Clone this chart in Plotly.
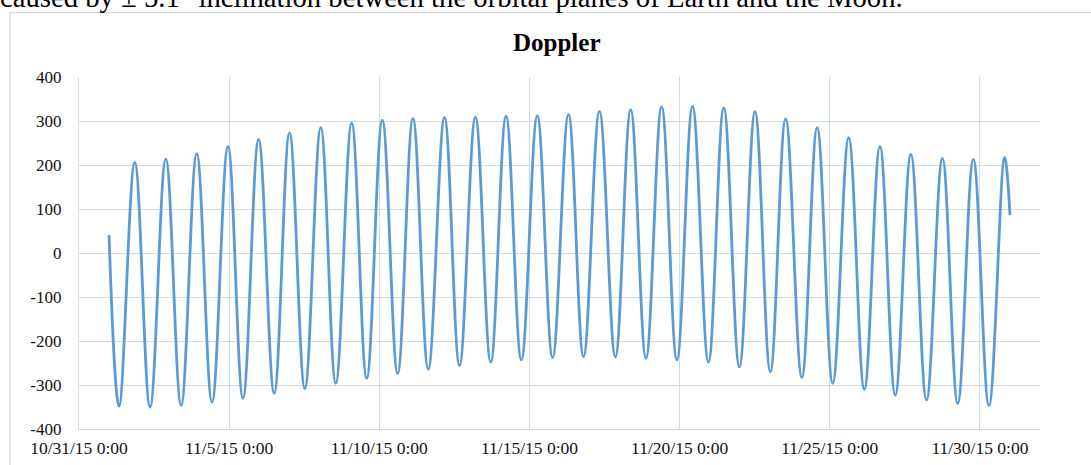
import plotly.graph_objects as go

# Doppler extremes (time, Hz)
times = [
    "2015-11-01 00:00", "2015-11-01 08:00", "2015-11-01 20:34", "2015-11-02 08:48", "2015-11-02 21:22",
    "2015-11-03 09:36", "2015-11-03 22:05", "2015-11-04 10:19", "2015-11-04 23:02", "2015-11-05 11:02",
    "2015-11-05 23:31", "2015-11-06 12:00", "2015-11-07 00:14", "2015-11-07 12:29", "2015-11-08 01:12",
    "2015-11-08 13:12", "2015-11-09 01:55", "2015-11-09 13:55", "2015-11-10 02:24", "2015-11-10 14:38",
    "2015-11-11 02:53", "2015-11-11 15:07", "2015-11-12 04:05", "2015-11-12 16:05", "2015-11-13 04:48",
    "2015-11-13 17:02", "2015-11-14 05:17", "2015-11-14 17:31", "2015-11-15 06:14", "2015-11-15 18:29",
    "2015-11-16 07:12", "2015-11-16 19:12", "2015-11-17 07:55", "2015-11-17 20:38", "2015-11-18 08:53",
    "2015-11-18 21:07", "2015-11-19 09:36", "2015-11-19 21:50", "2015-11-20 10:19", "2015-11-20 23:02",
    "2015-11-21 11:17", "2015-11-21 23:46", "2015-11-22 12:14", "2015-11-23 00:29", "2015-11-23 12:43",
    "2015-11-24 01:41", "2015-11-24 13:55", "2015-11-25 02:24", "2015-11-25 15:07", "2015-11-26 03:36",
    "2015-11-26 16:05", "2015-11-27 04:19", "2015-11-27 16:48", "2015-11-28 05:17", "2015-11-28 18:00",
    "2015-11-29 06:14", "2015-11-29 18:43", "2015-11-30 07:12", "2015-11-30 19:41", "2015-12-01 00:00",
]
doppler = [
    41, -348, 206, -350, 214,
    -346, 226, -339, 242, -330,
    258, -319, 273, -308, 285,
    -296, 295, -285, 302, -274,
    306, -264, 308, -256, 309,
    -248, 311, -243, 312, -238,
    315, -236, 322, -236, 326,
    -239, 332, -243, 333, -248,
    330, -259, 321, -270, 305,
    -283, 285, -296, 262, -310,
    242, -323, 224, -334, 215,
    -342, 213, -347, 217, 86,
]

y_tick_values = [-400, -300, -200, -100, 0, 100, 200, 300, 400]
y_tick_labels = ["-400", "-300", "-200", "-100", "0", "100", "200", "300", "400"]

title_text = "Doppler"
caption_text = "caused by \u00b1 5.1\u00b0 inclination between the orbital planes of Earth and the Moon."
x_range = ["2015-10-31", "2015-12-02"]
y_range = [-400, 400]

W, H = 1091, 465
ML, MR, MT, MB = 79, 51, 77, 36
PW, PH = W - ML - MR, H - MT - MB


def px(x):
    return (x - ML) / PW


def py(y):
    return (H - MB - y) / PH


font_family = "Liberation Serif, Times New Roman, serif"

fig = go.Figure()
fig.add_trace(go.Scatter(
    x=times, y=doppler, mode="lines",
    line=dict(color="#5B9BD5", width=2.8, shape="spline", smoothing=1.1),
    hoverinfo="skip", showlegend=False,
))

fig.update_layout(
    width=W, height=H,
    margin=dict(l=ML, r=MR, t=MT, b=MB, pad=0, autoexpand=False),
    paper_bgcolor="white", plot_bgcolor="white",
    font=dict(family=font_family, size=17, color="#111111"),
    showlegend=False,
    xaxis=dict(
        type="date", range=x_range, tick0="2015-10-31", dtick=5 * 86400000,
        tickformat="%-m/%-d/%y %-H:%M", showgrid=True, gridcolor="#c9dcf0", gridwidth=1,
        showline=True, linecolor="#d9d9d9", linewidth=1.3, ticks="", zeroline=False,
        tickfont=dict(family=font_family, size=17.5, color="#111111"),
        ticklabelstandoff=3, automargin=False,
    ),
    yaxis=dict(
        range=y_range, tickmode="array", tickvals=y_tick_values, ticktext=y_tick_labels,
        showgrid=True, gridcolor="#d9d9d9", gridwidth=1.3,
        zeroline=False, showline=True, linecolor="#d9d9d9", linewidth=1.3, ticks="",
        tickfont=dict(family=font_family, size=17, color="#111111"),
        ticklabelstandoff=13, automargin=False,
    ),
    shapes=[
        dict(type="rect", xref="paper", yref="paper",
             x0=px(10), x1=px(1110), y0=py(490), y1=py(12.7),
             line=dict(color="#d9d9d9", width=1.3), fillcolor="rgba(0,0,0,0)", layer="below"),
    ],
    annotations=[
        dict(text="<b>" + title_text + "</b>", xref="paper", yref="paper",
             x=px(556.7), y=py(42), xanchor="center", yanchor="middle", showarrow=False,
             font=dict(family=font_family, size=25, color="#000000")),
        dict(text=caption_text, xref="paper", yref="paper",
             x=px(-2), y=py(-2.7), xanchor="left", yanchor="middle", showarrow=False,
             font=dict(family=font_family, size=28.7, color="#000000")),
    ],
)

fig.write_html("out.html")
